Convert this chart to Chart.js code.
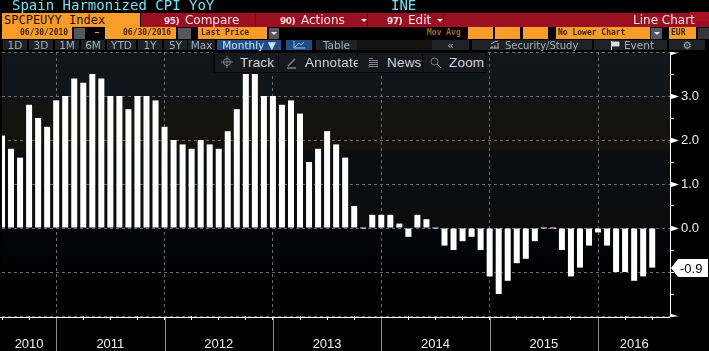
<!DOCTYPE html>
<html>
<head>
<meta charset="utf-8">
<script src="https://cdn.jsdelivr.net/npm/chart.js@4"></script>
<style>
  html, body { margin: 0; padding: 0; background: #000; overflow: hidden; }
  #wrap { position: relative; width: 709px; height: 351px; }
  canvas { position: absolute; left: 0; top: 0; }
  .b { position: absolute; white-space: pre; box-sizing: border-box; }
  .mono { font-family: "DejaVu Sans Mono", monospace; }
  .title { top: -2px; height: 14px; color: #66e6f2; font-size: 14px; line-height: 14px; }
  .org { background: #f99d28; height: 12px; top: 27px; color: #3a2400; font: bold 8px/12px "DejaVu Sans Mono", monospace; }
  .red { top: 13px; height: 14px; color: #f2e4e4; font: 12px/14px "DejaVu Sans", sans-serif; }
  .red b { font-size: 9px; letter-spacing: -0.5px; margin-right: 2px; }
  .gray { background: #54585c; top: 28px; height: 11px; }
  .btn { top: 40px; height: 10px; background: #1e2226; color: #a4aeb8; text-align: center; font: 10.5px/11px "DejaVu Sans", sans-serif; }
  .tool { top: 53px; height: 19px; background: #15191d; color: #d2d6da; font: 13.5px/19px "Liberation Sans", sans-serif; letter-spacing: 0.2px; }
  .tri { width: 0; height: 0; border-left: 3px solid transparent; border-right: 3px solid transparent; border-top: 3px solid #e8e8e8; }
  svg.b { overflow: visible; fill: none; stroke: #7c8084; stroke-width: 1; }
</style>
</head>
<body>
<div id="wrap">
  <canvas id="cpi" width="709" height="351"></canvas>

  <div class="b mono title" style="left:12px">Spain Harmonized CPI YoY</div>
  <div class="b mono title" style="left:391px">INE</div>

  <div class="b" style="left:2px;top:13px;width:138px;height:14px;background:#f99d28;color:#1c1000;font:12px/15px 'DejaVu Sans Mono',monospace;padding-left:2px">SPCPEUYY Index</div>
  <div class="b" style="left:141px;top:13px;width:568px;height:14px;background:#9c0f22"></div>
  <div class="b" style="left:690px;top:12px;width:19px;height:9px;background:#a80f20"></div>
  <div class="b" style="left:255px;top:13px;width:1px;height:14px;background:#500810"></div>
  <div class="b" style="left:367px;top:13px;width:1px;height:14px;background:#500810"></div>
  <div class="b" style="left:443px;top:13px;width:1px;height:14px;background:#500810"></div>
  <div class="b red" style="left:164px"><b>95)</b> Compare</div>
  <div class="b red" style="left:280px"><b>90)</b> Actions</div>
  <div class="b tri" style="left:361px;top:19px"></div>
  <div class="b red" style="left:387px"><b>97)</b> Edit</div>
  <div class="b tri" style="left:437px;top:19px"></div>
  <div class="b red" style="left:633px">Line Chart</div>

  <div class="b org" style="left:2px;width:70px;padding-left:18px">06/30/2010</div>
  <div class="b gray" style="left:74px;width:11px"></div>
  <div class="b" style="left:95px;top:32px;width:4px;height:1px;background:#f99d28"></div>
  <div class="b org" style="left:105px;width:71px;padding-left:18px">06/30/2016</div>
  <div class="b gray" style="left:178px;width:13px"></div>
  <div class="b org" style="left:198px;width:69px;padding-left:3px">Last Price</div>
  <div class="b gray" style="left:269px;width:10px"></div>
  <div class="b tri" style="left:271px;top:32px"></div>
  <div class="b mono" style="left:427px;top:27px;color:#a86a10;font:bold 8px/12px 'DejaVu Sans Mono',monospace">Mov Avg</div>
  <div class="b org" style="left:468px;width:25px"></div>
  <div class="b org" style="left:495px;width:25px"></div>
  <div class="b org" style="left:523px;width:25px"></div>
  <div class="b org" style="left:556px;width:94px;padding-left:2px">No Lower Chart</div>
  <div class="b gray" style="left:651px;width:11px"></div>
  <div class="b tri" style="left:654px;top:32px"></div>
  <div class="b org" style="left:669px;width:27px;padding-left:2px">EUR</div>
  <div class="b gray" style="left:698px;width:11px;background:#33363a"></div>

  <div class="b btn" style="left:3px;width:24px">1D</div>
  <div class="b btn" style="left:29px;width:24px">3D</div>
  <div class="b btn" style="left:55px;width:24px">1M</div>
  <div class="b btn" style="left:81px;width:24px">6M</div>
  <div class="b btn" style="left:107px;width:29px">YTD</div>
  <div class="b btn" style="left:138px;width:24px">1Y</div>
  <div class="b btn" style="left:164px;width:23px">5Y</div>
  <div class="b btn" style="left:188px;width:27px">Max</div>
  <div class="b btn" style="left:217px;width:64px;background:#1d4f86;color:#cfe0f2">Monthly &#9660;</div>
  <div class="b btn" style="left:286px;width:26px;background:#1d4f86"></div>
  <svg class="b" style="left:293px;top:41px" width="12" height="8"><path d="M1 0V7H12M2 6L6 2L8 4L11 1" style="stroke:#a8c0d8"/></svg>
  <div class="b btn" style="left:316px;width:41px">Table</div>
  <div class="b btn" style="left:357px;width:75px;background:#14110e"></div>
  <div class="b btn" style="left:432px;width:37px">&#171;</div>
  <div class="b btn" style="left:472px;width:120px;padding-left:33px;text-align:left;font-size:10px">Security/Study</div>
  <svg class="b" style="left:490px;top:41px" width="10" height="8"><path d="M0 7H9M2 7V5M5 7V4M8 7V2M1 3L4 1L8 0" style="stroke:#b0b4b8"/></svg>
  <div class="b btn" style="left:594px;width:73px;padding-left:17px">Event</div>
  <svg class="b" style="left:611px;top:41px" width="8" height="9"><path d="M0.5 0V9M1 1H8V5H1Z" style="fill:#d8dadc;stroke:#d8dadc"/></svg>
  <div class="b btn" style="left:669px;width:36px">&#9881;</div>

  <div class="b" style="left:213px;top:52px;width:273px;height:21px;background:#050607"></div>
  <div class="b tool" style="left:215px;width:63px;padding-left:25px">Track</div>
  <svg class="b" style="left:221px;top:56px" width="12" height="12"><circle cx="6" cy="6" r="3.5"/><path d="M6 0V12M0 6H12"/></svg>
  <div class="b tool" style="left:279px;width:78px;padding-left:26px">Annotate</div>
  <svg class="b" style="left:287px;top:58px" width="10" height="10"><path d="M1 8L8 1M0 10H9" style="stroke-width:1.5"/></svg>
  <div class="b tool" style="left:358px;width:64px;padding-left:29px">News</div>
  <svg class="b" style="left:369px;top:58px" width="10" height="10"><path d="M0 .5H4M0 2.5H9M0 4.5H9M0 6.5H9M0 8.5H9"/></svg>
  <div class="b tool" style="left:423px;width:62px;padding-left:26px">Zoom</div>
  <svg class="b" style="left:430px;top:57px" width="11" height="11"><circle cx="4.5" cy="4.5" r="3.5"/><path d="M7 7L11 11"/></svg>
</div>

<script>
// one value per month, Jun 2010 to Jun 2016
const cpiValues = [
  2.1, 1.8, 1.6, 2.8, 2.5, 2.3, 2.9,
  3.0, 3.4, 3.3, 3.5, 3.4, 3.0, 3.0, 2.7, 3.0, 3.0, 2.9, 2.3,
  2.0, 1.9, 1.8, 2.0, 1.9, 1.8, 2.2, 2.7, 3.5, 3.5, 3.0, 3.0,
  2.8, 2.9, 2.6, 1.5, 1.8, 2.2, 1.9, 1.6, 0.5, 0.0, 0.3, 0.3,
  0.3, 0.1, -0.2, 0.3, 0.2, 0.0, -0.4, -0.5, -0.3, -0.2, -0.5, -1.1,
  -1.5, -1.2, -0.8, -0.7, -0.3, 0.0, 0.0, -0.5, -1.1, -0.9, -0.4, -0.1,
  -0.4, -1.0, -1.0, -1.2, -1.1, -0.9
];
const lastValue = -0.9;

// x positions are month numbers counted from Jun 2010
const quarterTicks = [0, 3, 6, 9, 12, 15, 18, 21, 24, 27, 30, 33, 36, 39, 42, 45, 48, 51, 54, 57, 60, 63, 66, 69, 72];
const yearEnds = [6, 18, 30, 42, 54, 66];
const yearLabels = { 3: '2010', 12: '2011', 24: '2012', 36: '2013', 48: '2014', 60: '2015', 70: '2016' };
const yLabels = [3, 2, 1, 0];
const yMarkers = [4, 3, 2, 1, 0, -2];

const terminalLook = {
  id: 'terminalLook',
  beforeDraw(chart) {
    const { ctx, chartArea: a } = chart;
    ctx.save();
    ctx.fillStyle = '#000';
    ctx.fillRect(0, 0, chart.width, chart.height);
    const h = a.bottom - a.top;
    const g = ctx.createLinearGradient(0, a.top, 0, a.bottom);
    g.addColorStop(0, '#11161c');
    g.addColorStop(44 / h, '#10151a');
    g.addColorStop(50 / h, '#141410');
    g.addColorStop(96 / h, '#13120f');
    g.addColorStop(102 / h, '#0a0d14');
    g.addColorStop(138 / h, '#0b0c0f');
    g.addColorStop(175 / h, '#0c0c0c');
    g.addColorStop(177 / h, '#02050c');
    g.addColorStop(222 / h, '#000000');
    g.addColorStop(1, '#000000');
    ctx.fillStyle = g;
    ctx.fillRect(a.left, a.top, a.right - a.left, h);
    ctx.restore();
  },
  afterDraw(chart) {
    const { ctx, chartArea: a, scales } = chart;
    ctx.save();
    // x axis rule sits one pixel under the -2 grid line
    ctx.fillStyle = '#fff';
    ctx.fillRect(0, a.bottom + 1, a.right, 1);
    ctx.fillStyle = '#8c8c8c';
    yearEnds.forEach(m => {
      ctx.fillRect(Math.round(scales.x.getPixelForValue(m)), a.bottom + 2, 1, chart.height - a.bottom);
    });
    ctx.fillStyle = '#fff';
    yMarkers.forEach(v => {
      const y = Math.round(scales.y.getPixelForValue(v)) + 0.5;
      ctx.beginPath();
      ctx.moveTo(a.right, y - (v === 4 ? 0 : 3));
      ctx.lineTo(a.right + 9, y);
      ctx.lineTo(a.right, y + (v === -2 ? 0 : 3));
      ctx.fill();
    });
    // last price callout
    const ly = Math.round(scales.y.getPixelForValue(lastValue));
    ctx.beginPath();
    ctx.moveTo(a.right + 1, ly);
    ctx.lineTo(a.right + 8, ly - 9);
    ctx.lineTo(708, ly - 9);
    ctx.lineTo(708, ly + 9);
    ctx.lineTo(a.right + 8, ly + 9);
    ctx.fill();
    ctx.fillStyle = '#000';
    ctx.font = '13px "Liberation Sans", sans-serif';
    ctx.textBaseline = 'middle';
    ctx.textAlign = 'left';
    ctx.fillText('-0.9', a.right + 10, ly + 1);
    ctx.restore();
  }
};

new Chart(document.getElementById('cpi'), {
  type: 'bar',
  plugins: [terminalLook],
  data: {
    datasets: [{
      data: cpiValues.map((v, i) => ({ x: i, y: v })),
      backgroundColor: '#fff',
      barThickness: 6,
      inflateAmount: 0,
      minBarLength: 1
    }]
  },
  options: {
    responsive: false,
    animation: false,
    layout: { padding: { left: 2, top: 52 } },
    plugins: { legend: { display: false }, tooltip: { enabled: false } },
    scales: {
      x: {
        type: 'linear',
        offset: false,
        min: 0,
        max: 73.97,
        border: { display: false, dash: [3, 3] },
        grid: {
          offset: false,
          tickLength: 4,
          color: c => yearEnds.includes(c.tick && c.tick.value) ? '#6a6a6a' : 'transparent',
          tickColor: c => c.tick && quarterTicks.includes(c.tick.value) ? '#fff' : 'transparent'
        },
        afterBuildTicks(scale) {
          scale.ticks = [...quarterTicks, 70].sort((a, b) => a - b).map(v => ({ value: v }));
        },
        afterFit(scale) {
          scale.height = 35;
          scale.paddingLeft = 0;
          scale.paddingRight = 0;
        },
        ticks: {
          autoSkip: false,
          maxRotation: 0,
          padding: 17,
          color: '#f0f0f0',
          font: { family: '"Liberation Sans", sans-serif', size: 13 },
          callback: v => yearLabels[v] || ''
        }
      },
      y: {
        position: 'right',
        min: -2,
        max: 4,
        border: { color: '#fff', dash: [3, 3] },
        grid: {
          tickLength: 4,
          tickColor: '#fff',
          color: c => c.tick && Number.isInteger(c.tick.value) ? '#6a6a6a' : 'transparent'
        },
        afterFit(scale) {
          scale.width = 39;
          scale.paddingTop = 0;
          scale.paddingBottom = 0;
        },
        ticks: {
          stepSize: 0.5,
          padding: 7,
          color: '#f0f0f0',
          font: { family: '"Liberation Sans", sans-serif', size: 13 },
          callback: v => yLabels.includes(v) ? v.toFixed(1) : ''
        }
      }
    }
  }
});
</script>
</body>
</html>
